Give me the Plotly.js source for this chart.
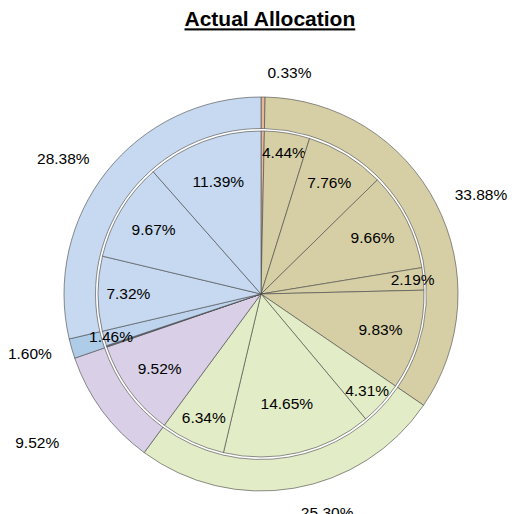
<!DOCTYPE html>
<html>
<head>
<meta charset="utf-8">
<script src="https://cdn.plot.ly/plotly-3.0.1.min.js"></script>
<style>
    html, body { margin: 0; padding: 0; background: #fff; }
    #frame { width: 519px; height: 514px; overflow: hidden; position: relative; }
    #chart { width: 519px; height: 580px; }
</style>
</head>
<body>
<div id="frame"><div id="chart"></div></div>
<script>
// outer ring: group totals, clockwise from 12 o'clock
const outerValues = [0.33, 33.88, 25.30, 9.52, 1.60, 28.38];

// inner pie: single holdings, same order as the ring
const innerValues = [0.33, 4.44, 7.76, 9.66, 2.19, 9.83, 4.31, 14.65, 6.34, 9.52, 0.08, 0.06, 1.46, 7.32, 9.67, 11.39];

// colours
const outerColors = ['#E8B79A', '#D6CFA6', '#E2ECC6', '#D9D0E7', '#AECBE8', '#C6D9F0'];
const innerColors = ['#E8B79A', '#D6CFA6', '#D6CFA6', '#D6CFA6', '#D6CFA6', '#D6CFA6',
    '#E2ECC6', '#E2ECC6', '#E2ECC6', '#D9D0E7', '#9DBDE0', '#A9C6E6', '#BED4EE',
    '#C6D9F0', '#C6D9F0', '#C6D9F0'];

// the plot is a bit taller than the visible frame so the pulled label
// ring can keep its full radius; the bottom is clipped at 514px
const W = 519, H = 580;
const cx = 261, cy = 294;   // pie centre in page pixels

// domain for a pie of radius r centred on (cx, cy)
function dom(r) {
    return {
        x: [(cx - r) / W, (cx + r) / W],
        y: [(H - cy - r) / H, (H - cy + r) / H]
    };
}

const pct = v => v.toFixed(2) + '%';
const font = { family: 'Liberation Sans, Arial, sans-serif', size: 15.5, color: '#000' };
const edge = { color: 'rgba(70,70,70,0.6)', width: 1 };

const inner = {
    type: 'pie',
    values: innerValues,
    text: innerValues.map(v => v < 0.5 ? '' : pct(v)),
    textinfo: 'text',
    textposition: 'inside',
    insidetextorientation: 'horizontal',
    textfont: font,
    sort: false,
    direction: 'clockwise',
    rotation: 0,
    marker: { colors: innerColors, line: edge },
    domain: dom(163),
    hoverinfo: 'none'
};

const ring = {
    type: 'pie',
    values: outerValues,
    hole: 0.84,
    textinfo: 'none',
    sort: false,
    direction: 'clockwise',
    rotation: 0,
    marker: { colors: outerColors, line: edge },
    domain: dom(197),
    hoverinfo: 'none'
};

// invisible ring a bit larger, only carries the outside labels;
// pull pushes the 9.52% label further out, the domain is grown so the
// base radius stays at 213px
const labelPull = [0, 0, 0, 0.15, 0, 0];
const ringLabels = {
    type: 'pie',
    values: outerValues,
    hole: 0.98,
    text: outerValues.map(pct),
    textinfo: 'text',
    textposition: 'outside',
    textfont: font,
    sort: false,
    direction: 'clockwise',
    rotation: 0,
    pull: labelPull,
    marker: { colors: outerValues.map(() => 'rgba(0,0,0,0)'), line: { width: 0 } },
    domain: dom(213 * (1 + Math.max(...labelPull))),
    hoverinfo: 'none'
};

const layout = {
    width: W,
    height: H,
    margin: { l: 0, r: 0, t: 0, b: 0 },
    showlegend: false,
    paper_bgcolor: '#fff',
    uniformtext: { minsize: 15.5, mode: 'show' },
    title: {
        text: '<b><u>Actual Allocation</u></b>',
        font: { family: 'Liberation Sans, Arial, sans-serif', size: 21, color: '#000' },
        x: 0.52,
        xanchor: 'center',
        xref: 'paper',
        y: 1 - 19 / H,
        yref: 'container',
        yanchor: 'middle'
    }
};

Plotly.newPlot('chart', [ring, inner, ringLabels], layout, { displayModeBar: false, staticPlot: true });
</script>
</body>
</html>
